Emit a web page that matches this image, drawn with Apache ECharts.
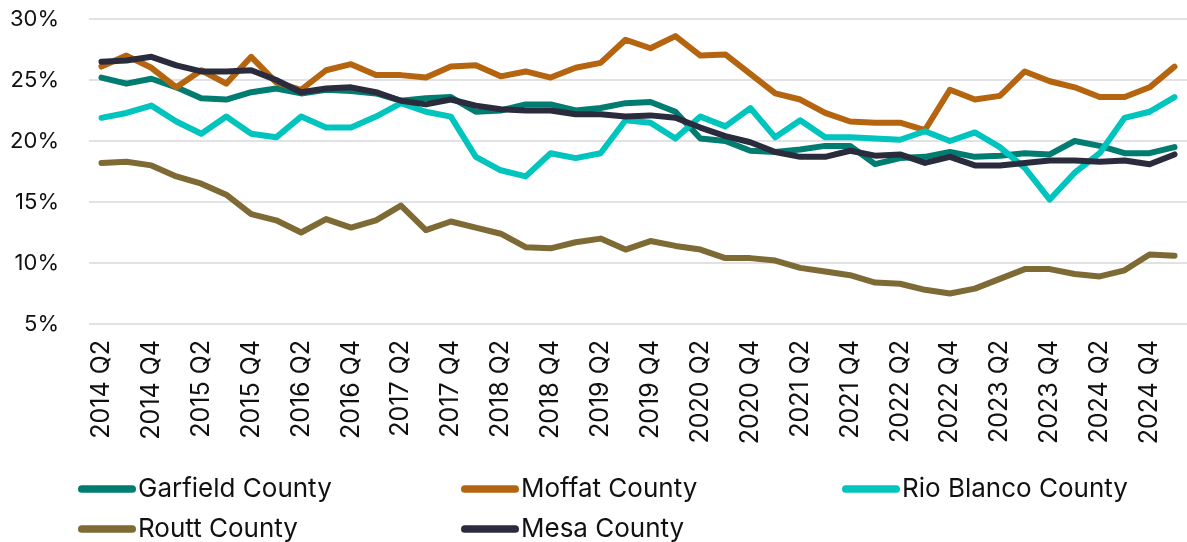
<!DOCTYPE html>
<html>
<head>
<meta charset="utf-8">
<script src="https://cdn.jsdelivr.net/npm/echarts@6/dist/echarts.min.js"></script>
<style>
  html, body { margin: 0; padding: 0; background: #ffffff; }
  #chart { width: 1187px; height: 542px; }
</style>
</head>
<body>
<div id="chart"></div>
<script>
// Quarterly shares (%) by county, 2014 Q2 – 2025 Q1
const quarters = [
  '2014 Q2','2014 Q3','2014 Q4',
  '2015 Q1','2015 Q2','2015 Q3','2015 Q4',
  '2016 Q1','2016 Q2','2016 Q3','2016 Q4',
  '2017 Q1','2017 Q2','2017 Q3','2017 Q4',
  '2018 Q1','2018 Q2','2018 Q3','2018 Q4',
  '2019 Q1','2019 Q2','2019 Q3','2019 Q4',
  '2020 Q1','2020 Q2','2020 Q3','2020 Q4',
  '2021 Q1','2021 Q2','2021 Q3','2021 Q4',
  '2022 Q1','2022 Q2','2022 Q3','2022 Q4',
  '2023 Q1','2023 Q2','2023 Q3','2023 Q4',
  '2024 Q1','2024 Q2','2024 Q3','2024 Q4',
  '2025 Q1'
];

const garfield = [
  25.2, 24.7, 25.1, 24.4, 23.5, 23.4, 24.0, 24.3, 23.9, 24.2, 24.1,
  23.9, 23.3, 23.5, 23.6, 22.4, 22.5, 23.0, 23.0, 22.5, 22.7, 23.1,
  23.2, 22.4, 20.2, 20.0, 19.2, 19.1, 19.3, 19.6, 19.6, 18.1, 18.6,
  18.7, 19.1, 18.7, 18.8, 19.0, 18.9, 20.0, 19.6, 19.0, 19.0, 19.5
];
const moffat = [
  26.1, 27.0, 26.0, 24.4, 25.8, 24.7, 26.9, 24.8, 24.2, 25.8, 26.3,
  25.4, 25.4, 25.2, 26.1, 26.2, 25.3, 25.7, 25.2, 26.0, 26.4, 28.3,
  27.6, 28.6, 27.0, 27.1, 25.5, 23.9, 23.4, 22.3, 21.6, 21.5, 21.5,
  20.9, 24.2, 23.4, 23.7, 25.7, 24.9, 24.4, 23.6, 23.6, 24.4, 26.1
];
const rioBlanco = [
  21.9, 22.3, 22.9, 21.6, 20.6, 22.0, 20.6, 20.3, 22.0, 21.1, 21.1,
  22.0, 23.1, 22.4, 22.0, 18.7, 17.6, 17.1, 19.0, 18.6, 19.0, 21.7,
  21.5, 20.2, 22.0, 21.2, 22.7, 20.3, 21.7, 20.3, 20.3, 20.2, 20.1,
  20.8, 20.0, 20.7, 19.5, 17.8, 15.2, 17.4, 19.0, 21.9, 22.4, 23.6
];
const routt = [
  18.2, 18.3, 18.0, 17.1, 16.5, 15.6, 14.0, 13.5, 12.5, 13.6, 12.9,
  13.5, 14.7, 12.7, 13.4, 12.9, 12.4, 11.3, 11.2, 11.7, 12.0, 11.1,
  11.8, 11.4, 11.1, 10.4, 10.4, 10.2, 9.6, 9.3, 9.0, 8.4, 8.3,
  7.8, 7.5, 7.9, 8.7, 9.5, 9.5, 9.1, 8.9, 9.4, 10.7, 10.6
];
const mesa = [
  26.5, 26.6, 26.9, 26.2, 25.7, 25.7, 25.8, 25.0, 24.0, 24.3, 24.4,
  24.0, 23.3, 23.0, 23.4, 22.9, 22.6, 22.5, 22.5, 22.2, 22.2, 22.0,
  22.1, 21.9, 21.1, 20.4, 19.9, 19.1, 18.7, 18.7, 19.2, 18.8, 18.9,
  18.2, 18.7, 18.0, 18.0, 18.2, 18.4, 18.4, 18.3, 18.4, 18.1, 18.9
];

const seriesDefs = [
  { name: 'Garfield County',   data: garfield,  color: '#007C71' },
  { name: 'Moffat County',     data: moffat,    color: '#B5650F' },
  { name: 'Rio Blanco County', data: rioBlanco, color: '#00C4BE' },
  { name: 'Routt County',      data: routt,     color: '#7E6A35' },
  { name: 'Mesa County',       data: mesa,      color: '#2A2C3E' }
];

const FONT = 'Inter, "Open Sans", sans-serif';
const lineIcon = 'path://M4,0 L56,0 A4,4 0 0 1 56,8 L4,8 A4,4 0 0 1 4,0 Z';

// One vertical legend column per position; two rows of 39px spacing
function legendAt(left, names) {
  return {
    orient: 'vertical',
    left: left,
    top: 476,
    height: 120,
    padding: 0,
    data: names,
    icon: lineIcon,
    itemWidth: 58,
    itemHeight: 8,
    itemGap: 14,
    selectedMode: false,
    textStyle: { fontFamily: FONT, fontSize: 26, color: '#111', lineHeight: 24, padding: [0, 0, 0, -3] }
  };
}

const chart = echarts.init(document.getElementById('chart'), null, { renderer: 'canvas' });
chart.setOption({
  animation: false,
  backgroundColor: '#ffffff',
  color: seriesDefs.map(s => s.color),
  grid: { left: 89, right: -9, top: 19, bottom: 218, containLabel: false },
  legend: [
    legendAt(78,  ['Garfield County', 'Routt County']),
    legendAt(461, ['Moffat County', 'Mesa County']),
    legendAt(842, ['Rio Blanco County'])
  ],
  xAxis: {
    type: 'category',
    data: quarters,
    boundaryGap: true,
    axisLine: { show: false },
    axisTick: { show: false },
    axisLabel: {
      interval: 1,
      rotate: 90,
      margin: 16,
      fontFamily: FONT,
      fontSize: 25,
      color: '#111'
    }
  },
  yAxis: {
    type: 'value',
    min: 5,
    max: 30,
    interval: 5,
    axisLine: { show: false },
    axisTick: { show: false },
    axisLabel: {
      formatter: '{value}%',
      margin: 30,
      fontFamily: FONT,
      fontSize: 22,
      color: '#111'
    },
    splitLine: { lineStyle: { color: '#E2E2E4', width: 2 } }
  },
  series: seriesDefs.map(s => ({
    name: s.name,
    type: 'line',
    data: s.data,
    symbol: 'none',
    clip: false,
    lineStyle: { width: 6, color: s.color, cap: 'round', join: 'round' },
    itemStyle: { color: s.color }
  }))
});
</script>
</body>
</html>
